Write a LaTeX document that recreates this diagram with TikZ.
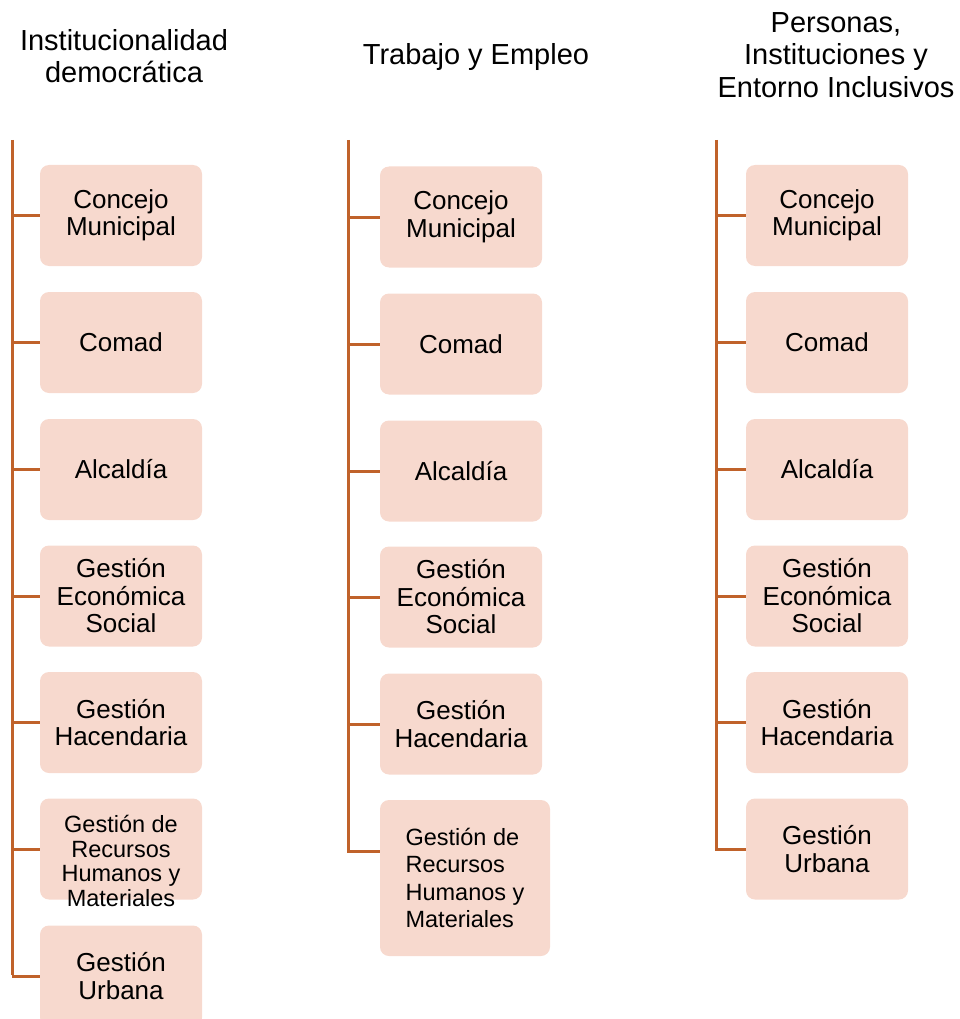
\documentclass[tikz,border=0pt]{standalone}
\usepackage{fontspec}
\setmainfont{Liberation Sans}
\definecolor{linec}{HTML}{C0622A}
\definecolor{boxc}{HTML}{F7D9CE}
\tikzset{
  orgbox/.style={fill=boxc, draw=none, rounded corners=9pt, minimum width=162pt, minimum height=101pt, inner sep=0pt, align=center, font=\fontsize{26}{27.5}\selectfont},
  hdr/.style={align=center, inner sep=0pt, font=\fontsize{29}{32.5}\selectfont},
  smalltxt/.style={align=center, inner sep=0pt, font=\fontsize{23.5}{24.5}\selectfont},
  conn/.style={draw=linec, line width=3pt}
}
\begin{document}
\begin{tikzpicture}[x=1pt,y=-1pt]
\useasboundingbox (0,0) rectangle (959,1019);
\clip (0,0) rectangle (959,1019);
% headers
\node[hdr] (h1) at (124,56) {Institucionalidad\\democrática};
\node[hdr] (h2) at (476,57) {Trabajo y Empleo};
\node[hdr] (h3) at (836,55) {Personas,\\Instituciones y\\Entorno Inclusivos};
% column 1
\coordinate (t1) at (12,140);
\node[orgbox] (a1) at (121,215.5) {Concejo\\Municipal};
\node[orgbox] (a2) at (121,342.5) {Comad};
\node[orgbox] (a3) at (121,469.5) {Alcaldía};
\node[orgbox] (a4) at (121,596) {Gestión\\Económica\\Social};
\node[orgbox] (a5) at (121,722.5) {Gestión\\Hacendaria};
\node[orgbox] (a6) at (121,849) {};
\node[smalltxt] (a6t) at (121,861) {Gestión de\\Recursos\\Humanos y\\Materiales};
\node[orgbox] (a7) at (121,976) {Gestión\\Urbana};
\coordinate (e1) at (12,975);
\draw[conn] (t1) -- (e1);
\foreach \n in {a1,a2,a3,a4,a5,a6,a7}{\draw[conn] (t1 |- \n.west) -- (\n.west);}
% column 2
\coordinate (t2) at (348,140);
\node[orgbox] (b1) at (461,217) {Concejo\\Municipal};
\node[orgbox] (b2) at (461,344) {Comad};
\node[orgbox] (b3) at (461,471) {Alcaldía};
\node[orgbox] (b4) at (461,597) {Gestión\\Económica\\Social};
\node[orgbox] (b5) at (461,724) {Gestión\\Hacendaria};
\node[orgbox, minimum width=170pt, minimum height=156pt, align=left, font=\fontsize{23.5}{27.5}\selectfont] (b6) at (465,878) {Gestión de\\Recursos\\Humanos y\\Materiales};
\coordinate (e2) at (348,851);
\draw[conn] (t2) -- (e2) -- (e2 -| b6.west);
\foreach \n in {b1,b2,b3,b4,b5}{\draw[conn] (t2 |- \n.west) -- (\n.west);}
% column 3
\coordinate (t3) at (716,140);
\node[orgbox] (c1) at (827,215.5) {Concejo\\Municipal};
\node[orgbox] (c2) at (827,342.5) {Comad};
\node[orgbox] (c3) at (827,469.5) {Alcaldía};
\node[orgbox] (c4) at (827,596) {Gestión\\Económica\\Social};
\node[orgbox] (c5) at (827,722.5) {Gestión\\Hacendaria};
\node[orgbox] (c6) at (827,849) {Gestión\\Urbana};
\coordinate (e3) at (716,849);
\draw[conn] (t3) -- (e3) -- (c6.west);
\foreach \n in {c1,c2,c3,c4,c5}{\draw[conn] (t3 |- \n.west) -- (\n.west);}
\end{tikzpicture}
\end{document}
